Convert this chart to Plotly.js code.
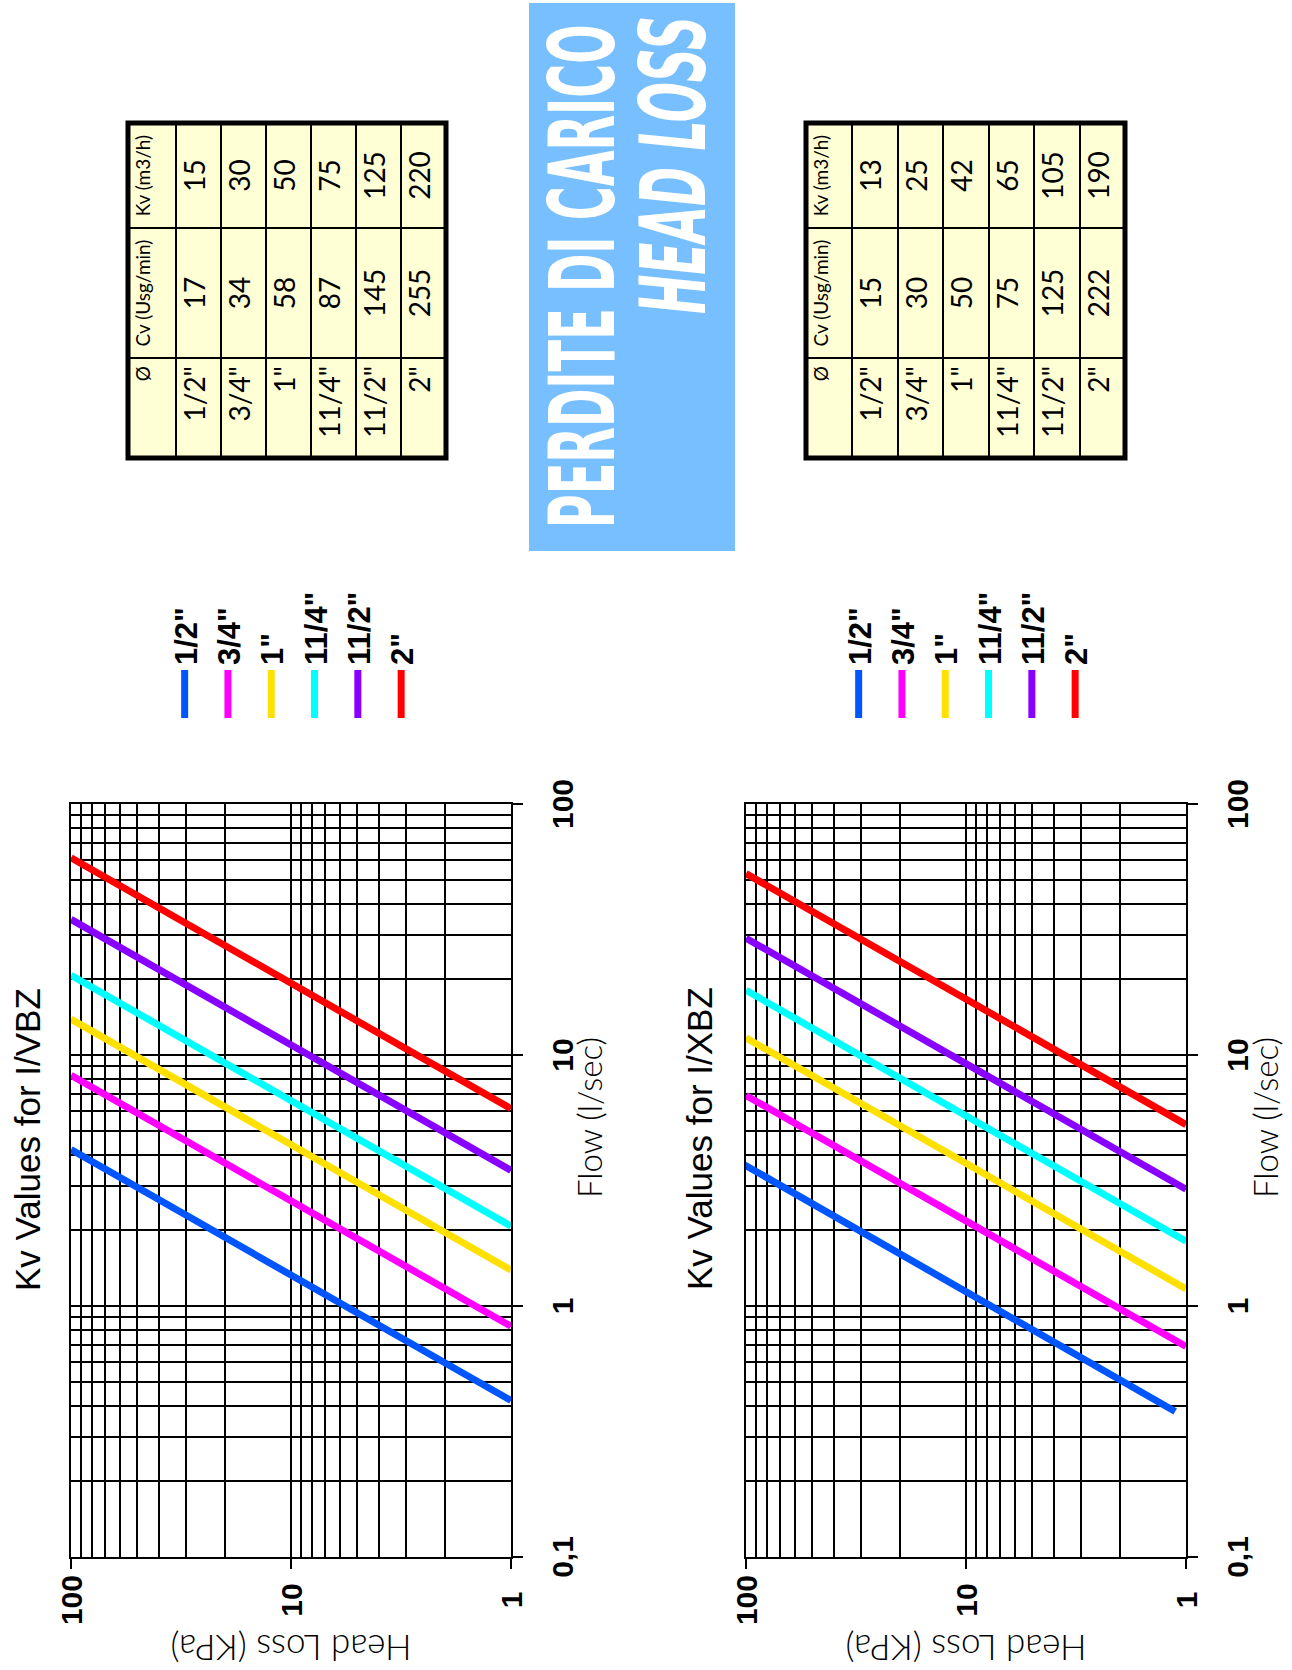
<!DOCTYPE html>
<html><head><meta charset="utf-8">
<script src="https://cdn.plot.ly/plotly-3.0.1.min.js"></script>
<style>
html,body{margin:0;padding:0;background:#fff;overflow:hidden;width:1292px;height:1670px;}
#wrap{position:absolute;left:0;top:0;width:1670px;height:1292px;transform-origin:0 0;transform:translate(0px,1670px) rotate(-90deg);}
#chart{width:1670px;height:1292px;}
</style></head><body><div id="wrap"><div id="chart"></div></div>
<script>
// ---------- data ----------
const sizes = ['1/2"', '3/4"', '1"', '11/4"', '11/2"', '2"'];

// I/VBZ : flow (l/sec) at the two ends of each line, head loss (kPa) at those ends
const vbzHeadLossStart = [100, 100, 100, 100, 100, 100];
const vbzHeadLossEnd   = [1, 1, 1, 1, 1, 1];
const vbzFlowStart     = [4.2, 8.3, 13.9, 20.8, 34.7, 61.1];
const vbzFlowEnd       = [0.42, 0.83, 1.39, 2.08, 3.47, 6.11];

// I/XBZ
const xbzHeadLossStart = [110, 100, 100, 100, 100, 100];
const xbzHeadLossEnd   = [1.12, 1, 1, 1, 1, 1];
const xbzFlowStart     = [3.8, 6.9, 11.7, 18.1, 29.2, 52.8];
const xbzFlowEnd       = [0.38, 0.69, 1.17, 1.81, 2.92, 5.28];

// tables
const tableHeader = ['Ø', 'Cv (Usg/min)', 'Kv (m3/h)'];
const vbzCv = [17, 34, 58, 87, 145, 255];
const vbzKv = [15, 30, 50, 75, 125, 220];
const xbzCv = [15, 30, 50, 75, 125, 222];
const xbzKv = [13, 25, 42, 65, 105, 190];

// axes
const flowTickVals = [0.1, 1, 10, 100];
const flowTickText = ['0,1', '1', '10', '100'];
const headLossTickVals = [1, 10, 100];
const headLossTickText = ['1', '10', '100'];

const chartTitles = ['Kv Values for I/VBZ', 'Kv Values for I/XBZ'];
const flowTitle = 'Flow (l/sec)';
const headLossTitle = 'Head Loss (KPa)';
const bannerLine1 = 'PERDITE DI CARICO';
const bannerLine2 = 'HEAD LOSS';

// ---------- styles ----------
const lineColors = ['#0055ff', '#ff00ff', '#ffe000', '#00ffff', '#8800ff', '#ff0000'];
const W = 1670, H = 1292;
const px = X => X / W;
const py = Y => 1 - Y / H;
const BOLD = 'Liberation Sans, Arial, sans-serif';
const LIGHT = 'Lato, Open Sans, sans-serif';
const NARROW = 'Liberation Sans Narrow, DejaVu Sans Condensed, Liberation Sans, sans-serif';
const cream = '#ffffd6';

function minorVals(lo, hi) {
  const v = [];
  for (let d = lo; d < hi; d++) for (let k = 2; k <= 9; k++) v.push(k * Math.pow(10, d));
  return v;
}
const pad = t => t + '\u00a0'.repeat(3 - t.length);

function flowAxis(anchor) {
  return {
    domain: [px(113), px(866)], anchor: anchor, type: 'log', range: [-1, 2],
    tickmode: 'array', tickvals: flowTickVals, ticktext: flowTickText,
    ticks: 'outside', ticklen: 10, tickwidth: 2, tickcolor: '#000',
    showline: true, linecolor: '#000', linewidth: 2, mirror: true,
    showgrid: true, gridcolor: '#000', gridwidth: 2, zeroline: false,
    minor: {tickmode: 'array', tickvals: minorVals(-1, 2), showgrid: true, gridcolor: '#000', gridwidth: 2, ticks: ''},
    tickfont: {family: BOLD, size: 30, weight: 'bold', color: '#000'},
    ticklabelstandoff: 14, automargin: false, fixedrange: true
  };
}
function headLossAxis(anchor, d0, d1) {
  return {
    domain: [py(d1), py(d0)], anchor: anchor, type: 'log', range: [0, 2],
    tickmode: 'array', tickvals: headLossTickVals, ticktext: headLossTickText.map(pad),
    ticks: 'outside', ticklen: 10, tickwidth: 2, tickcolor: '#000',
    showline: true, linecolor: '#000', linewidth: 2, mirror: true,
    showgrid: true, gridcolor: '#000', gridwidth: 2, zeroline: false,
    minor: {tickmode: 'array', tickvals: minorVals(0, 2), showgrid: true, gridcolor: '#000', gridwidth: 2, ticks: ''},
    tickfont: {family: BOLD, size: 30, weight: 'bold', color: '#000'},
    title: {text: headLossTitle, font: {family: LIGHT, size: 35, weight: 300, color: '#000'}, standoff: 8},
    automargin: false, fixedrange: true
  };
}

const data = [];
sizes.forEach((s, i) => {
  data.push({type: 'scatter', mode: 'lines', name: s, legend: 'legend',
    x: [vbzFlowStart[i], vbzFlowEnd[i]], y: [vbzHeadLossStart[i], vbzHeadLossEnd[i]],
    xaxis: 'x', yaxis: 'y', line: {color: lineColors[i], width: 7}, hoverinfo: 'skip'});
});
sizes.forEach((s, i) => {
  data.push({type: 'scatter', mode: 'lines', name: s, legend: 'legend2',
    x: [xbzFlowStart[i], xbzFlowEnd[i]], y: [xbzHeadLossStart[i], xbzHeadLossEnd[i]],
    xaxis: 'x2', yaxis: 'y2', line: {color: lineColors[i], width: 7}, hoverinfo: 'skip'});
});

function table(cv, kv, y0, y1, hh, ch) {
  return {
    type: 'table', domain: {x: [px(1212), px(1547)], y: [py(y1 + 40), py(y0)]},
    columnwidth: [100, 130, 105],
    header: {values: tableHeader, align: ['right', 'center', 'center'], height: hh,
      fill: {color: cream}, line: {color: '#000', width: 2},
      font: {family: LIGHT, size: 19, color: '#000'}},
    cells: {values: [sizes, cv, kv], align: ['right', 'center', 'center'], height: ch,
      fill: {color: cream}, line: {color: '#000', width: 2},
      font: {family: LIGHT, size: 28, color: '#000'}}
  };
}
data.push(table(vbzCv, vbzKv, 128, 446, 48, 45));
data.push(table(xbzCv, xbzKv, 806, 1125, 46, 45.5));

const legendBase = {xanchor: 'left', yanchor: 'top', bgcolor: 'rgba(0,0,0,0)', borderwidth: 0,
  itemwidth: 48, tracegroupgap: 0, traceorder: 'normal',
  font: {family: BOLD, size: 31, weight: 'bold', color: '#000'}};

const layout = {
  width: W, height: H, margin: {l: 0, r: 0, t: 0, b: 0},
  paper_bgcolor: '#fff', plot_bgcolor: '#fff', showlegend: true,
  xaxis: flowAxis('y'), yaxis: headLossAxis('x', 71, 511),
  xaxis2: flowAxis('y2'), yaxis2: headLossAxis('x2', 746, 1186),
  legend: Object.assign({x: px(947), y: py(158)}, legendBase),
  legend2: Object.assign({x: px(947), y: py(832)}, legendBase),
  shapes: [
    {type: 'rect', xref: 'paper', yref: 'paper', x0: px(1119), x1: px(1667), y0: py(735), y1: py(529),
      fillcolor: '#77bfff', line: {width: 0}, layer: 'below'},
    {type: 'rect', xref: 'paper', yref: 'paper', x0: px(1212), x1: px(1547), y0: py(446), y1: py(128),
      line: {color: '#000', width: 5}, fillcolor: 'rgba(0,0,0,0)'},
    {type: 'rect', xref: 'paper', yref: 'paper', x0: px(1212), x1: px(1547), y0: py(1125), y1: py(806),
      line: {color: '#000', width: 5}, fillcolor: 'rgba(0,0,0,0)'}
  ],
  annotations: [
    {text: chartTitles[0], x: px(530), y: py(27), xref: 'paper', yref: 'paper', xanchor: 'center', yanchor: 'middle',
      showarrow: false, font: {family: BOLD, size: 35, color: '#000'}},
    {text: chartTitles[1], x: px(531), y: py(699), xref: 'paper', yref: 'paper', xanchor: 'center', yanchor: 'middle',
      showarrow: false, font: {family: BOLD, size: 35, color: '#000'}},
    {text: flowTitle, x: px(552), y: py(589), xref: 'paper', yref: 'paper', xanchor: 'center', yanchor: 'middle',
      showarrow: false, font: {family: LIGHT, size: 33, weight: 300, color: '#000'}},
    {text: flowTitle, x: px(552), y: py(1265), xref: 'paper', yref: 'paper', xanchor: 'center', yanchor: 'middle',
      showarrow: false, font: {family: LIGHT, size: 33, weight: 300, color: '#000'}},
    {text: bannerLine1, x: px(1393), y: py(582), xref: 'paper', yref: 'paper', xanchor: 'center', yanchor: 'middle',
      showarrow: false, font: {family: NARROW, size: 90, weight: 'bold', color: '#fff'}},
    {text: bannerLine2, x: px(1505), y: py(673), xref: 'paper', yref: 'paper', xanchor: 'center', yanchor: 'middle',
      showarrow: false, font: {family: NARROW, size: 90, weight: 'bold', style: 'italic', color: '#fff'}}
  ]
};

const gd = document.getElementById('chart');
Plotly.newPlot(gd, data, layout, {staticPlot: true, displayModeBar: false}).then(() => {
  const targets = {4: 504, 5: 298};
  Object.keys(targets).forEach(k => {
    const t = gd.querySelector('g.annotation[data-index="' + k + '"] text.annotation-text');
    if (!t) return;
    const bb = t.getBBox();
    const sx = targets[k] / bb.width;
    const cx = bb.x + bb.width / 2, cy = bb.y + bb.height / 2;
    const prev = t.getAttribute('transform') || '';
    t.setAttribute('transform', prev + ' translate(' + cx + ',' + cy + ') scale(' + sx + ',1) translate(' + (-cx) + ',' + (-cy) + ')');
  });
});
</script></body></html>
